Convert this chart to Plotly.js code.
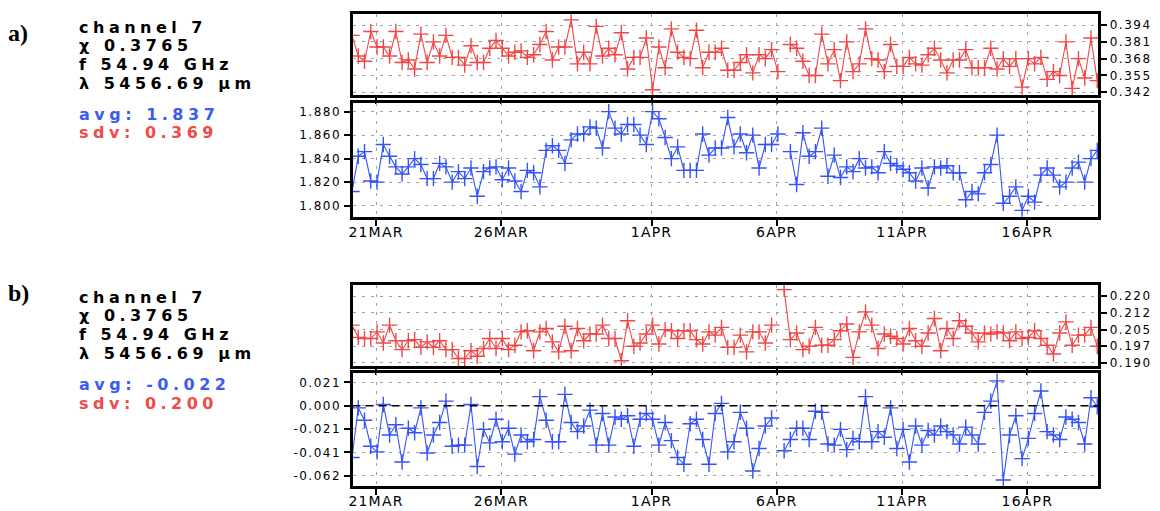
<!DOCTYPE html>
<html><head><meta charset="utf-8">
<script src="https://cdn.plot.ly/plotly-3.0.1.min.js"></script>
<style>
html,body{margin:0;padding:0;background:#fff;}
#chart{width:1160px;height:511px;}
#chart .annotation-text{letter-spacing:4.5px;}
#chart g[class^="x"][class$="tick"] text{letter-spacing:1.2px;}
#chart g[class^="y"][class$="tick"] text{letter-spacing:1.5px;}
</style>
</head><body>
<div id="chart"></div>
<script>
// ---- data (6-hourly samples from 20 MAR) ----
const startUTC = Date.UTC(2000, 2, 20, 1, 0, 0);
const stepHours = 6;

const redA = [
0.386,0.370,0.366,0.389,0.377,0.377,0.370,0.389,0.365,0.367,
0.360,0.387,0.365,0.381,0.370,0.386,0.369,0.369,0.363,0.378,
0.365,0.365,0.376,0.382,0.376,0.370,0.373,0.374,0.369,0.371,
0.379,0.389,0.367,0.377,0.377,0.398,0.364,0.373,0.364,0.393,
0.370,0.376,0.371,0.388,0.360,0.369,0.369,0.384,0.344,0.377,
0.361,0.391,0.373,0.369,0.368,0.390,0.361,0.373,0.373,0.376,
0.359,0.359,0.365,0.371,0.357,0.371,0.368,0.375,0.358,null,
0.379,0.376,0.366,0.355,0.355,0.387,0.364,0.375,0.351,0.381,
0.358,0.364,0.391,0.368,0.367,0.358,0.379,0.362,0.362,0.369,
0.364,0.363,0.371,0.376,0.367,0.357,0.367,0.367,0.375,0.361,
0.361,0.361,0.376,0.360,0.368,0.362,0.368,0.346,0.368,0.364,
0.369,0.352,0.358,0.355,0.381,0.345,0.368,0.353,0.384,0.351];

const blueA = [
1.812,1.842,1.846,1.821,1.820,1.852,1.842,1.833,1.827,1.833,
1.840,1.835,1.823,1.823,1.836,1.833,1.820,1.829,1.823,1.832,
1.808,1.829,1.832,1.833,1.822,1.832,1.821,1.812,1.830,1.828,
1.816,1.847,1.851,1.847,1.836,1.856,1.861,1.861,1.867,1.866,
1.849,1.880,1.866,1.861,1.869,1.869,1.860,1.852,1.880,1.874,
1.858,1.840,1.850,1.830,1.830,1.830,1.861,1.843,1.849,1.849,
1.875,1.850,1.861,1.845,1.860,1.832,1.852,1.852,1.861,null,
1.846,1.818,1.862,1.842,1.846,1.866,1.825,1.843,1.824,1.833,
1.829,1.840,1.832,1.833,1.828,1.846,1.836,1.834,1.831,1.828,
1.821,1.832,1.815,1.833,1.832,1.834,1.828,1.828,1.805,1.812,
1.810,1.828,1.835,1.860,1.802,1.808,1.816,1.796,1.808,1.803,
1.826,1.832,1.826,1.816,1.820,1.832,1.837,1.820,1.840,1.847];

const redB = [
0.207,0.2015,0.201,0.201,0.204,0.199,0.207,0.200,0.196,0.200,
0.2005,0.197,0.1995,0.197,0.200,0.196,0.196,0.192,0.192,0.1955,
0.193,0.1965,0.201,0.1965,0.201,0.196,0.198,0.204,0.2045,0.1955,
0.204,0.2055,0.1995,0.195,0.2065,0.1955,0.2055,0.200,0.203,0.203,
0.207,0.201,0.201,0.191,0.209,0.1975,0.199,0.203,0.207,0.1985,
0.205,0.2045,0.201,0.2045,0.2045,0.2005,0.1985,0.204,0.2025,0.206,
0.197,0.197,0.2025,0.195,0.204,0.204,0.199,0.207,null,0.223,
0.2005,0.2035,0.196,0.1975,0.206,0.198,0.198,0.2005,0.2045,0.2075,
0.1925,0.204,0.213,0.207,0.1965,0.203,0.202,0.201,0.1985,0.2055,
0.200,0.1975,0.2035,0.210,0.1955,0.2055,0.201,0.209,0.2065,0.2035,
0.1995,0.2035,0.203,0.204,0.2035,0.200,0.204,0.201,0.2015,0.2045,
0.201,0.198,0.194,0.2035,0.2085,0.198,0.2025,0.2025,0.206,0.1975];

const blueB = [
-0.046,-0.002,-0.013,-0.036,-0.041,0.001,-0.026,-0.017,-0.050,-0.020,
-0.024,-0.002,-0.042,-0.026,-0.015,0.004,-0.036,-0.035,-0.035,0.001,
-0.054,-0.021,-0.033,-0.012,-0.032,-0.020,-0.043,-0.026,-0.032,-0.030,
0.008,-0.013,-0.032,-0.032,0.010,-0.015,-0.023,-0.018,-0.004,-0.035,
-0.007,-0.035,-0.010,-0.012,-0.009,-0.036,-0.012,-0.007,-0.012,-0.035,
-0.015,-0.031,-0.046,-0.052,-0.016,-0.012,-0.030,-0.052,-0.007,0.002,
-0.041,-0.032,-0.006,-0.020,-0.058,-0.038,-0.018,-0.011,null,-0.040,
-0.030,-0.020,-0.020,-0.030,-0.005,-0.006,-0.034,-0.035,-0.021,-0.039,
-0.029,-0.032,0.008,-0.032,-0.023,-0.028,-0.002,-0.038,-0.021,-0.050,
-0.018,-0.035,-0.022,-0.026,-0.018,-0.023,-0.026,-0.034,-0.019,-0.026,
-0.034,-0.006,0.004,0.022,-0.066,-0.026,-0.009,-0.047,-0.029,-0.007,
0.013,-0.023,-0.026,-0.030,-0.010,-0.012,-0.015,-0.034,0.007,-0.001];

const dateTicks = ['2000-03-21','2000-03-26','2000-04-01','2000-04-06','2000-04-11','2000-04-16'];
const dateLabels = ['21MAR','26MAR','1APR','6APR','11APR','16APR'];

const redATicks = [0.342,0.355,0.368,0.381,0.394];
const redALabels = ['0.342','0.355','0.368','0.381','0.394'];
const blueATicks = [1.800,1.820,1.840,1.860,1.880];
const blueALabels = ['1.800','1.820','1.840','1.860','1.880'];
const redBTicks = [0.190,0.1975,0.205,0.2125,0.220];
const redBLabels = ['0.190','0.197','0.205','0.212','0.220'];
const blueBTicks = [-0.0621,-0.0414,-0.0207,0,0.0207];
const blueBLabels = ['-0.062','-0.041','-0.021','0.000','0.021'];

const infoLines = ['channel 7','\u03C7 0.3765','f 54.94 GHz','\u03BB 5456.69 \u03BCm'];
const avgA = 'avg: 1.837', sdvA = 'sdv: 0.369';
const avgB = 'avg: -0.022', sdvB = 'sdv: 0.200';

// ---- build ----
function pad(n){return (n<10?'0':'')+n;}
function fmt(ms){const d=new Date(ms);return d.getUTCFullYear()+'-'+pad(d.getUTCMonth()+1)+'-'+pad(d.getUTCDate())+' '+pad(d.getUTCHours())+':'+pad(d.getUTCMinutes());}
const times = redA.map((_,i)=>fmt(startUTC + i*stepHours*3600e3));

const RED = '#f24646', BLUE = '#3452fa';
const W = 1160, H = 511;
const xDom = [352.5/W, 1098.3/W];
const xRange = ['2000-03-20 01:29','2000-04-18 20:01'];
const dom = (top,bot)=>[1-bot/H, 1-top/H];

function trace(y, color, xa, ya){
  return {x:times, y:y, xaxis:xa, yaxis:ya, type:'scatter', mode:'lines+markers',
    line:{color:color, width:1.1},
    marker:{symbol:'cross-thin', size:11, color:color, line:{width:1.4, color:color}},
    hoverinfo:'skip', cliponaxis:true};
}
const tickFont = {family:'DejaVu Sans', size:12, color:'#000'};
function xax(anchor, labels){
  return {domain:xDom, anchor:anchor, type:'date', range:xRange, tickmode:'array',
    tickvals:dateTicks, ticktext:dateLabels, showticklabels:labels,
    ticks:'outside', ticklen:6, tickwidth:2, tickcolor:'#000', ticklabelstandoff:-6,
    showline:true, linewidth:3, linecolor:'#000', mirror:true,
    showgrid:true, gridcolor:'#a0a0a0', gridwidth:1, griddash:'3px,6px',
    zeroline:false, tickfont:{family:'DejaVu Sans', size:14, color:'#000'}, fixedrange:true};
}
function yax(anchor, d, range, tv, tt, side){
  return {domain:d, anchor:anchor, range:range, side:side, tickmode:'array', tickvals:tv, ticktext:tt,
    ticks:'outside', ticklen:6, tickwidth:2, tickcolor:'#000',
    showline:true, linewidth:3, linecolor:'#000', mirror:true,
    showgrid:true, gridcolor:'#a0a0a0', gridwidth:1, griddash:'3px,6px',
    zeroline:false, tickfont:tickFont, fixedrange:true};
}

const data = [
  trace(redA, RED, 'x', 'y'),
  trace(blueA, BLUE, 'x2', 'y2'),
  trace(redB, RED, 'x3', 'y3'),
  trace(blueB, BLUE, 'x4', 'y4')
];

const annotations = [];
function txt(s, x, yc, color){
  annotations.push({text:s, xref:'paper', yref:'paper', x:x/W, y:1-yc/H, xanchor:'left', yanchor:'middle',
    align:'left', showarrow:false, borderpad:0, font:{family:'DejaVu Sans', size:16, weight:'bold', color:color}});
}
const lineY = [27, 45.5, 64.5, 83.5];
[[0, avgA, sdvA],[270, avgB, sdvB]].forEach(([off, av, sd])=>{
  infoLines.forEach((s,i)=>txt(s, 78, lineY[i]+off, '#000'));
  txt(av, 78, 114+off, '#3a5cf5');
  txt(sd, 78, 133+off, '#f04a4a');
});
annotations.push({text:'<span style="letter-spacing:0px">a)</span>', xref:'paper', yref:'paper', x:7/W, y:1-33/H, xanchor:'left', yanchor:'middle', align:'left', showarrow:false, borderpad:0,
  font:{family:'Liberation Serif', size:24, weight:'bold', color:'#000'}});
annotations.push({text:'<span style="letter-spacing:0px">b)</span>', xref:'paper', yref:'paper', x:7/W, y:1-293/H, xanchor:'left', yanchor:'middle', align:'left', showarrow:false, borderpad:0,
  font:{family:'Liberation Serif', size:24, weight:'bold', color:'#000'}});

const layout = {
  width:W, height:H, margin:{l:0,r:0,t:0,b:0,pad:0},
  paper_bgcolor:'#fff', plot_bgcolor:'#fff', showlegend:false,
  xaxis: xax('y', false),
  xaxis2: xax('y2', true),
  xaxis3: xax('y3', false),
  xaxis4: xax('y4', true),
  yaxis: yax('x', dom(14.3,95), [0.3399,0.4023], redATicks, redALabels, 'right'),
  yaxis2: yax('x2', dom(103.3,216.7), [1.7906,1.8871], blueATicks, blueALabels, 'left'),
  yaxis3: yax('x3', dom(284.7,366.3), [0.1885,0.2252], redBTicks, redBLabels, 'right'),
  yaxis4: yax('x4', dom(373.3,485.7), [-0.0710,0.0287], blueBTicks, blueBLabels, 'left'),
  shapes:[{type:'line', xref:'x4 domain', x0:0, x1:1, yref:'y4', y0:0, y1:0,
    line:{color:'#000', width:1.5, dash:'8px,5px'}}],
  annotations: annotations
};
Plotly.newPlot('chart', data, layout, {staticPlot:true, displayModeBar:false});
</script>
</body></html>
